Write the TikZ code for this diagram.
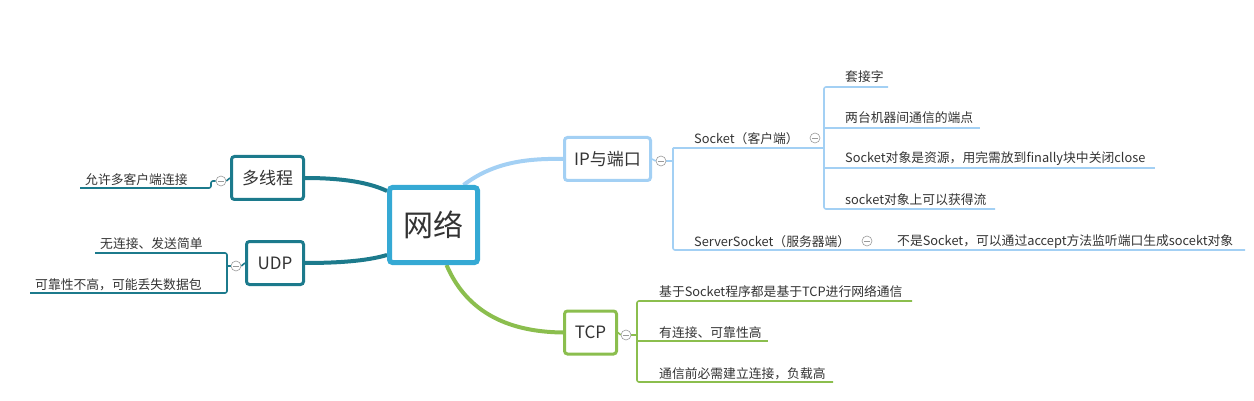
\documentclass[tikz,border=0pt]{standalone}
\usepackage{fontspec}
\setmainfont{Noto Sans CJK SC}
\usetikzlibrary{backgrounds,calc}
\definecolor{txt}{HTML}{333333}
\definecolor{cen}{HTML}{35A9D4}
\definecolor{teal}{HTML}{1C7A8C}
\definecolor{lblue}{HTML}{A3D0F4}
\definecolor{grn}{HTML}{8BBE4E}
\definecolor{cgray}{HTML}{9A9A9A}
\begin{document}
\begin{tikzpicture}[x=1pt,y=-1pt,
  topic/.style={draw, rounded corners=3pt, line width=3pt, fill=white, text=txt,
    font=\fontsize{17}{19}\selectfont, inner sep=0pt, minimum height=43pt},
  sub/.style={anchor=west, inner sep=0pt, text=txt, font=\fontsize{12.8}{14}\selectfont},
  fold/.style={circle, draw=cgray, fill=white, line width=0.6pt, minimum size=10pt, inner sep=0pt,
    path picture={\draw[cgray,line width=0.6pt] ([xshift=-2.6pt]path picture bounding box.center) -- ([xshift=2.6pt]path picture bounding box.center);}},
  tline/.style={teal, line width=1.6pt, rounded corners=2pt},
  bline/.style={lblue, line width=1.6pt, rounded corners=2pt},
  gline/.style={grn, line width=1.6pt, rounded corners=2pt},
]
\useasboundingbox (0,0) rectangle (1254,401);

% main nodes
\node[draw=cen, line width=5pt, rounded corners=3pt, fill=white, text=txt, inner sep=0pt,
  minimum width=88pt, minimum height=75pt, font=\fontsize{30}{32}\selectfont] (root) at (433.5,225) {网络};
\node[topic, draw=teal, minimum width=72pt] (mt) at (267.5,178) {多线程};
\node[topic, draw=teal, minimum width=57pt] (udp) at (275,263) {UDP};
\node[topic, draw=lblue, minimum width=86pt] (ip) at (607.5,159) {IP与端口};
\node[topic, draw=grn, minimum width=52pt] (tcp) at (590.5,332.5) {TCP};

% fold markers
\node[fold] (f1) at (221,181) {};
\node[fold] (f2) at (236,266) {};
\node[fold] (f3) at (661,161) {};
\node[fold] (f4) at (815,138) {};
\node[fold] (f5) at (867,241) {};
\node[fold] (f6) at (626,335) {};

% bracket coordinates
\coordinate (m1) at (80,188);
\coordinate (u1) at (95,253);
\coordinate (u2) at (30,293);
\coordinate (ss) at (673,148);
\coordinate (sv) at (1245,250);
\coordinate (k1) at (888,87);
\coordinate (k2) at (980,128);
\coordinate (k3) at (1155,168);
\coordinate (k4) at (995,209);
\coordinate (t1) at (912,301);
\coordinate (t2) at (768,341);
\coordinate (t3) at (833,382);

% texts
\node[sub] (s1) at (85,180) {允许多客户端连接};
\node[sub] (s2) at (100,244) {无连接、发送简单};
\node[sub] (s3) at (35,285) {可靠性不高，可能丢失数据包};
\node[sub] (sk) at (694,139) {Socket（客户端）};
\node[sub] (sv1) at (694,241.5) {ServerSocket（服务器端）};
\node[sub] (sv2) at (897,241.5) {不是Socket，可以通过accept方法监听端口生成socekt对象};
\node[sub] (a1) at (845,77) {套接字};
\node[sub] (a2) at (845,118) {两台机器间通信的端点};
\node[sub] (a3) at (845,159) {Socket对象是资源，用完需放到finally块中关闭close};
\node[sub] (a4) at (845,200) {socket对象上可以获得流};
\node[sub] (b1) at (659,292) {基于Socket程序都是基于TCP进行网络通信};
\node[sub] (b2) at (659,333) {有连接、可靠性高};
\node[sub] (b3) at (659,374) {通信前必需建立连接，负载高};

\begin{pgfonlayer}{background}
% main connectors
\draw[teal, line width=4pt] (mt.east) .. controls (345,178) and (370,183) .. ([yshift=34pt]root.west);
\draw[teal, line width=4pt] (udp.east) .. controls (345,263) and (370,260) .. ([yshift=-30pt]root.west);
\draw[lblue, line width=4pt] ([xshift=30pt]root.north) .. controls (490,165) and (520,158) .. (ip.west);
\draw[grn, line width=4pt] ([xshift=13pt]root.south) .. controls (470,320) and (520,332) .. (tcp.west);

% 多线程
\draw[tline] (mt.west) -- (f1.east);
\draw[tline] (f1.west) -- (211,181) -- (211,188) -- (m1);
% UDP
\draw[tline] (udp.west) -- (f2.east);
\draw[tline] (f2.west) -- (227,266);
\draw[tline] (u1) -- (227,253) -- (227,293) -- (u2);
% IP
\draw[bline] (ip.east) -- (f3.west);
\draw[bline] (f3.east) -- (673,161);
\draw[bline] (ss) -- (673,250) -- (sv);
\draw[bline] (ss) -- (824,148);
\draw[bline] (k1) -- (824,87) -- (824,209) -- (k4);
\draw[bline] (824,128) -- (k2);
\draw[bline] (824,168) -- (k3);
% TCP
\draw[gline] (tcp.east) -- (f6.west);
\draw[gline] (f6.east) -- (637,335);
\draw[gline] (t1) -- (637,301) -- (637,382) -- (t3);
\draw[gline] (637,341) -- (t2);
\end{pgfonlayer}
\end{tikzpicture}
\end{document}
